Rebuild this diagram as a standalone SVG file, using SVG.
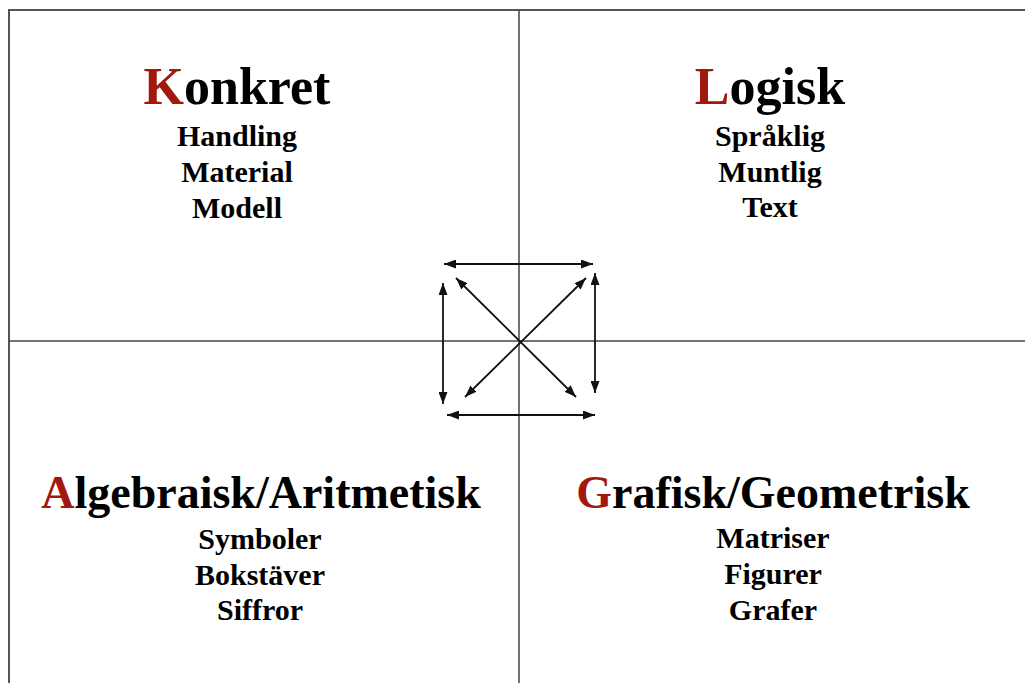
<svg xmlns="http://www.w3.org/2000/svg" width="1025" height="683" viewBox="0 0 1025 683">
<style>
.frame{stroke:#555;stroke-width:2;fill:none}
.div{stroke:#444;stroke-width:1.5;fill:none}
.arr{stroke:#111;stroke-width:1.8;fill:none;marker-start:url(#ah);marker-end:url(#ah)}
.h1{font-family:"Liberation Serif","Times New Roman",serif;font-weight:bold;font-size:52px;fill:#000;text-anchor:middle}
.h2{font-family:"Liberation Serif","Times New Roman",serif;font-weight:bold;font-size:46px;fill:#000;text-anchor:middle}
.it{font-family:"Liberation Serif","Times New Roman",serif;font-weight:bold;font-size:30px;fill:#000;text-anchor:middle}
.red{fill:#a3180e}
</style>
<defs>
<marker id="ah" viewBox="0 0 12 9" refX="12" refY="4.5" markerWidth="12" markerHeight="9" markerUnits="userSpaceOnUse" orient="auto-start-reverse">
<path d="M0,0 L12,4.5 L0,9 Z" fill="#111"/>
</marker>
</defs>
<g id="grid">
<path class="frame" d="M9,683 V10 H1025"/>
<path class="div" d="M519,10 V683"/>
<path class="div" d="M9,341 H1025"/>
</g>
<g id="konkret">
<text class="h1" x="237" y="104"><tspan class="red">K</tspan>onkret</text>
<text class="it" x="237" y="146">Handling</text>
<text class="it" x="237" y="182">Material</text>
<text class="it" x="237" y="218">Modell</text>
</g>
<g id="logisk">
<text class="h1" x="770" y="104"><tspan class="red">L</tspan>ogisk</text>
<text class="it" x="770" y="146">Språklig</text>
<text class="it" x="770" y="182">Muntlig</text>
<text class="it" x="770" y="217">Text</text>
</g>
<g id="algebraisk">
<text class="h2" x="261" y="508"><tspan class="red">A</tspan>lgebraisk/Aritmetisk</text>
<text class="it" x="260" y="549">Symboler</text>
<text class="it" x="260" y="585">Bokstäver</text>
<text class="it" x="260" y="620">Siffror</text>
</g>
<g id="grafisk">
<text class="h2" x="773" y="508"><tspan class="red">G</tspan>rafisk/Geometrisk</text>
<text class="it" x="773" y="548">Matriser</text>
<text class="it" x="773" y="584">Figurer</text>
<text class="it" x="773" y="620">Grafer</text>
</g>
<g id="connectors">
<line class="arr" x1="444" y1="264" x2="593" y2="264"/>
<line class="arr" x1="447" y1="415" x2="595" y2="415"/>
<line class="arr" x1="443" y1="283" x2="443" y2="404"/>
<line class="arr" x1="595" y1="273" x2="595" y2="393"/>
<line class="arr" x1="456" y1="278" x2="576" y2="397"/>
<line class="arr" x1="586" y1="278" x2="465" y2="397"/>
</g>
</svg>
